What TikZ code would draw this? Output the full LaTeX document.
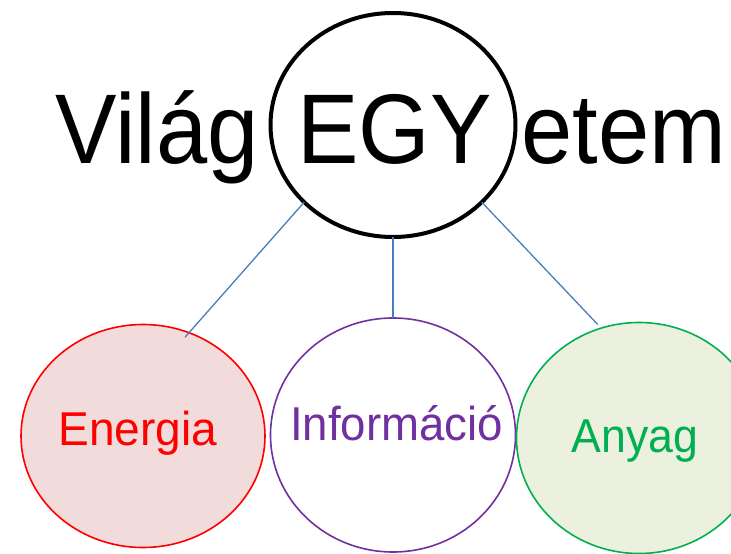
\documentclass[tikz,border=0pt]{standalone}
\usepackage{fontspec}
\setmainfont{Liberation Sans}
\usetikzlibrary{shapes.geometric}
\definecolor{linkblue}{HTML}{4A7EBB}
\definecolor{enfill}{HTML}{F2DCDB}
\definecolor{enline}{HTML}{FF0000}
\definecolor{infoline}{HTML}{7030A0}
\definecolor{anfill}{HTML}{EBF1DE}
\definecolor{anline}{HTML}{00B050}
\tikzset{
  oval/.style={ellipse, inner sep=0pt, outer sep=0pt},
  bigtxt/.style={anchor=base, inner sep=0pt, font=\fontsize{99}{110}\selectfont},
  smalltxt/.style={anchor=base, inner sep=0pt, font=\fontsize{47.5}{55}\selectfont},
  link/.style={draw=linkblue, line width=1.3pt}
}
\begin{document}
\begin{tikzpicture}[x=1pt, y=-1pt]
\useasboundingbox (0,0) rectangle (731,554);
\clip (0,0) rectangle (731,554);
% top circle
\node[oval, draw=black, line width=4pt, minimum width=245pt, minimum height=224pt] (T) at (393,125) {};
% bottom ellipses
\node[oval, draw=enline, fill=enfill, line width=1.6pt, minimum width=244pt, minimum height=223pt] (E) at (143,436) {};
\node[oval, draw=infoline, fill=white, line width=1.6pt, minimum width=245pt, minimum height=234pt] (I) at (393,435) {};
\node[oval, draw=anline, fill=anfill, line width=1.6pt, minimum width=245pt, minimum height=231pt] (A) at (639,438) {};
% texts
\node[bigtxt] (t1) at (157,163) {\scalebox{0.93}[1]{Világ}};
\node[bigtxt] (t2) at (394.5,163) {\scalebox{0.93}[1]{EGY}};
\node[bigtxt] (t3) at (624,163) {\scalebox{0.93}[1]{etem}};
\node[smalltxt, text=enline] (et) at (138,445) {\scalebox{0.97}[1]{Energia}};
\node[smalltxt, text=infoline] (it) at (396.5,440) {\scalebox{0.96}[1]{Információ}};
\node[smalltxt, text=anline] (at) at (635,452) {\scalebox{0.94}[1]{Anyag}};
% connectors
\draw[link, shorten >=-6pt] (T.221.9) -- (E.66.3);
\draw[link] (T.south) -- (I.north);
\draw[link, shorten >=5pt] (T.-41.9) -- (A.109.2);
\end{tikzpicture}
\end{document}
